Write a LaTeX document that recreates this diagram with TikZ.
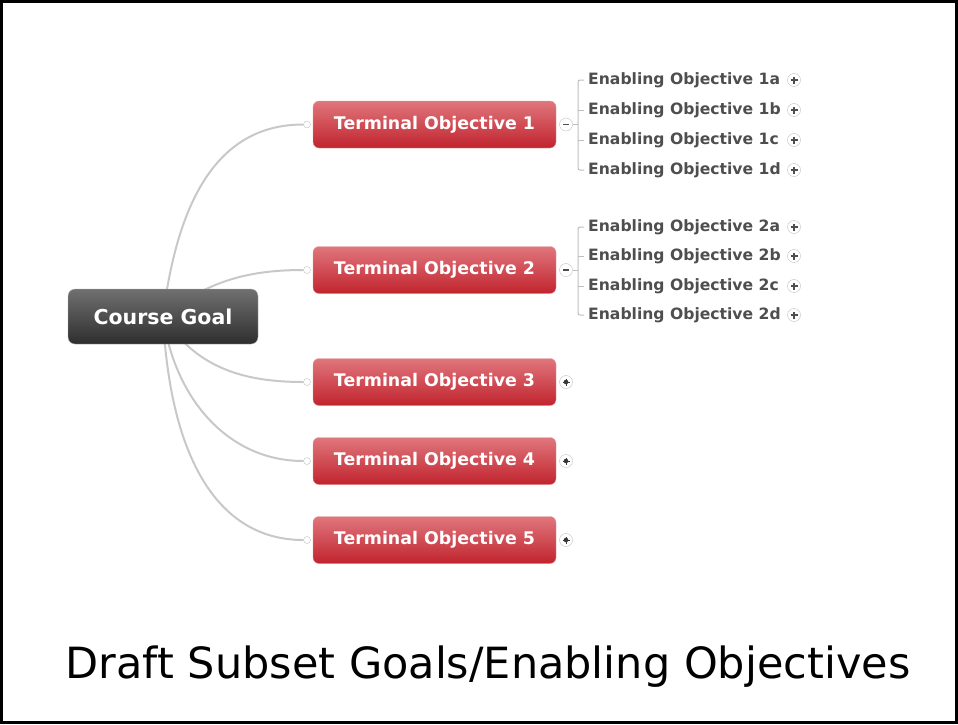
\documentclass[tikz,border=0pt]{standalone}
\usepackage{fontspec}
\setmainfont{DejaVu Sans}
\usepackage{tikz}
\usetikzlibrary{backgrounds}
\definecolor{goaldark}{RGB}{46, 46, 46}
\definecolor{goaltop}{RGB}{112, 112, 112}
\definecolor{termred}{RGB}{193, 36, 46}
\definecolor{termtop}{RGB}{224, 118, 124}
\definecolor{linkgray}{RGB}{200, 200, 200}
\definecolor{textgray}{RGB}{78, 78, 78}
\definecolor{ringgray}{RGB}{190, 190, 190}

\begin{document}
\begin{tikzpicture}[x=1pt, y=-1pt,
    goal/.style={draw=gray!60, rectangle, minimum width=190pt, minimum height=55pt, rounded corners=7pt, top color=goaltop, middle color=goaldark, bottom color=goaldark, text=white, font=\bfseries\fontsize{20.5}{23}\selectfont},
    terminal/.style={draw=termred!45!white, rectangle, minimum width=243pt, minimum height=47pt, rounded corners=6pt, top color=termtop, middle color=termred, bottom color=termred, text=white, font=\bfseries\fontsize{17.4}{19}\selectfont},
    enabling/.style={anchor=west, inner sep=0pt, text=textgray, font=\bfseries\fontsize{15.6}{17}\selectfont},
    port/.style={draw=ringgray, circle, fill=white, minimum size=7pt, inner sep=0pt},
    collapse/.style={draw=ringgray, circle, fill=white, minimum size=13pt, inner sep=0pt, path picture={\draw[line width=1.4pt, textgray] ([xshift=-3pt]path picture bounding box.center) -- ([xshift=3pt]path picture bounding box.center);}},
    expand/.style={draw=ringgray, circle, fill=white, minimum size=13pt, inner sep=0pt, path picture={\draw[line width=1.3pt, textgray] ([xshift=-3.5pt]path picture bounding box.center) -- ([xshift=3.5pt]path picture bounding box.center) ([yshift=-3.5pt]path picture bounding box.center) -- ([yshift=3.5pt]path picture bounding box.center);}},
    folded/.style={draw=ringgray, circle, fill=white, minimum size=13pt, inner sep=0pt, path picture={\fill[textgray!70!black] (path picture bounding box.center) circle (2.3pt); \draw[line width=1pt, textgray!70!black] ([xshift=-3.5pt]path picture bounding box.center) -- ([xshift=3.5pt]path picture bounding box.center) ([yshift=-3.5pt]path picture bounding box.center) -- ([yshift=3.5pt]path picture bounding box.center);}},
    link/.style={draw=linkgray, line width=2pt},
    bracket/.style={draw=ringgray, line width=1pt}
]
\useasboundingbox (0,0) rectangle (958,724);
\draw[line width=3pt] (1.5,1.5) rectangle (956.5,722.5);

% Course goal
\node[goal] (goal) at (163,316.5) {Course Goal};

% Terminal objectives
\node[terminal] (t1) at (434.5,124.5) {Terminal Objective 1};
\node[terminal] (t2) at (434.5,270) {Terminal Objective 2};
\node[terminal] (t3) at (434.5,382) {Terminal Objective 3};
\node[terminal] (t4) at (434.5,461) {Terminal Objective 4};
\node[terminal] (t5) at (434.5,540) {Terminal Objective 5};

% Ports and toggles
\node[port] (in1) at (307,124.5) {};
\node[port] (in2) at (307,270) {};
\node[port] (in3) at (307,382) {};
\node[port] (in4) at (307,461) {};
\node[port] (in5) at (307,540) {};
\node[collapse] (tg1) at (566,124.5) {};
\node[collapse] (tg2) at (566,270) {};
\node[folded] (tg3) at (566,382) {};
\node[folded] (tg4) at (566,461) {};
\node[folded] (tg5) at (566,540) {};

% Enabling objectives
\node[enabling] (e1a) at (588,80) {Enabling Objective 1a};
\node[enabling] (e1b) at (588,110) {Enabling Objective 1b};
\node[enabling] (e1c) at (588,140) {Enabling Objective 1c};
\node[enabling] (e1d) at (588,170) {Enabling Objective 1d};
\node[enabling] (e2a) at (588,227) {Enabling Objective 2a};
\node[enabling] (e2b) at (588,256) {Enabling Objective 2b};
\node[enabling] (e2c) at (588,286) {Enabling Objective 2c};
\node[enabling] (e2d) at (588,315) {Enabling Objective 2d};

\node[expand] (p1a) at (794,80) {};
\node[expand] (p1b) at (794,110) {};
\node[expand] (p1c) at (794,140) {};
\node[expand] (p1d) at (794,170) {};
\node[expand] (p2a) at (794,227) {};
\node[expand] (p2b) at (794,256) {};
\node[expand] (p2c) at (794,286) {};
\node[expand] (p2d) at (794,315) {};

% Brackets
\draw[bracket, rounded corners=2pt] ([xshift=-4]e1a.west) -- ([xshift=-10]e1a.west) -- ([xshift=-10]e1d.west) -- ([xshift=-4]e1d.west);
\draw[bracket] ([xshift=-10]e1b.west) -- ([xshift=-4]e1b.west);
\draw[bracket] ([xshift=-10]e1c.west) -- ([xshift=-4]e1c.west);
\draw[bracket] (tg1.east) -- ++(5.5,0);
\draw[bracket, rounded corners=2pt] ([xshift=-4]e2a.west) -- ([xshift=-10]e2a.west) -- ([xshift=-10]e2d.west) -- ([xshift=-4]e2d.west);
\draw[bracket] ([xshift=-10]e2b.west) -- ([xshift=-4]e2b.west);
\draw[bracket] ([xshift=-10]e2c.west) -- ([xshift=-4]e2c.west);
\draw[bracket] (tg2.east) -- ++(5.5,0);

% Connections
\begin{pgfonlayer}{background}
\draw[link] (goal.center) .. controls +(17,-136) and +(-74,0) .. (in1.west);
\draw[link] (goal.center) .. controls +(45,-36) and +(-54,0) .. (in2.west);
\draw[link] (goal.center) .. controls +(32,49) and +(-64,0) .. (in3.west);
\draw[link] (goal.center) .. controls +(12,84) and +(-74,0) .. (in4.west);
\draw[link] (goal.center) .. controls +(7,144) and +(-84,0) .. (in5.west);
\end{pgfonlayer}

% Caption
\node[anchor=base, font=\fontsize{43}{50}\selectfont] (caption) at (488,678) {Draft Subset Goals/Enabling Objectives};

\end{tikzpicture}
\end{document}
